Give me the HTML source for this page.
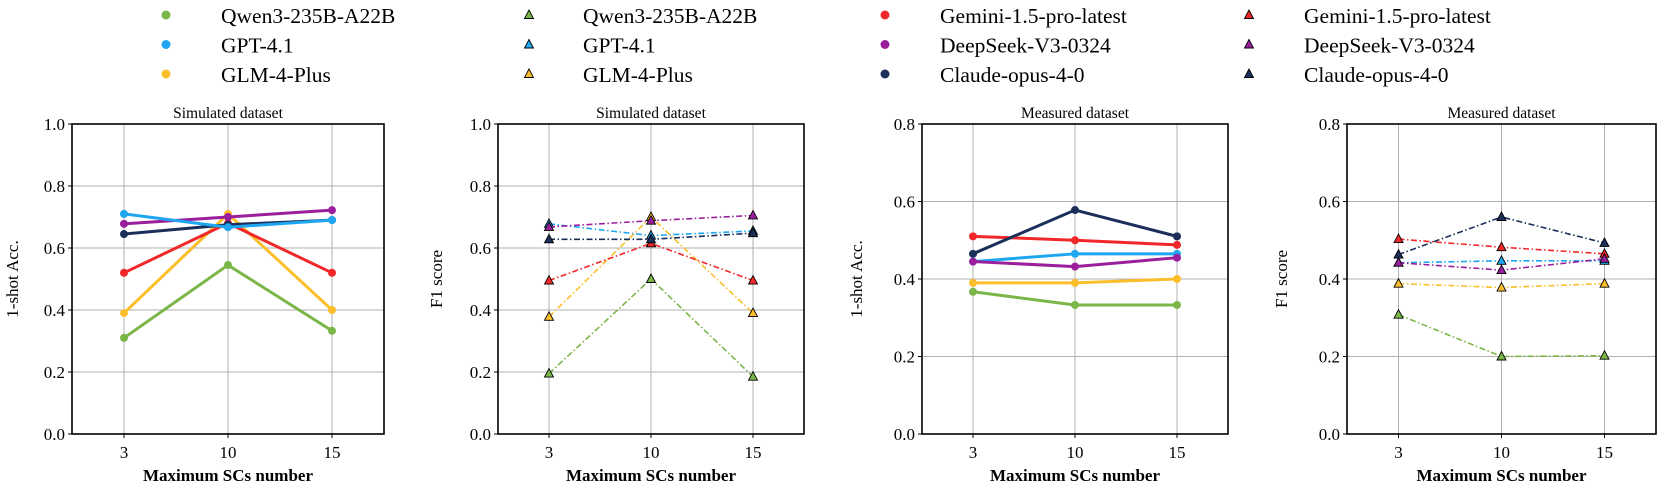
<!DOCTYPE html>
<html><head><meta charset="utf-8"><style>
body{margin:0;background:#fff;}
svg text{font-family:"Liberation Serif",serif;fill:#000;}
</style></head><body>
<svg id="s" width="1657" height="487" xmlns="http://www.w3.org/2000/svg"></svg>
<script>
const C={g:"#7ab648",b:"#1ea7f0",y:"#fbbf2c",r:"#f0282a",p:"#9b1f9d",n:"#1b2f5a"};
const panels=[
 {l:72,r:384,yx:13,max:1.0,title:"Simulated dataset",yl:"1-shot Acc.",tri:false,d:{g:[.31,.545,.333],b:[.71,.667,.69],y:[.39,.71,.40],r:[.52,.68,.52],p:[.678,.70,.722],n:[.645,.675,.69]},order:"gyrpnb"},
 {l:498,r:804,yx:437,max:1.0,title:"Simulated dataset",yl:"F1 score",tri:true,d:{g:[.195,.50,.185],b:[.678,.64,.655],y:[.378,.70,.39],r:[.495,.615,.495],p:[.668,.688,.705],n:[.628,.628,.648]},order:"gbyrpn"},
 {l:922,r:1228,yx:857,max:0.8,title:"Measured dataset",yl:"1-shot Acc.",tri:false,d:{g:[.367,.333,.333],b:[.445,.465,.465],y:[.39,.39,.40],r:[.51,.50,.488],p:[.445,.432,.455],n:[.465,.578,.51]},order:"gbyrpn"},
 {l:1347,r:1656,yx:1282,max:0.8,title:"Measured dataset",yl:"F1 score",tri:true,d:{g:[.308,.2,.202],b:[.442,.447,.447],y:[.388,.378,.388],r:[.503,.482,.465],p:[.442,.423,.452],n:[.463,.56,.493]},order:"gbyrpn"}
];
const T=124,B=434;
let h="";
function tri(x,y,c,s){s=s||1;return `<polygon points="${x},${y-5*s} ${x-4.5*s},${y+3.5*s} ${x+4.5*s},${y+3.5*s}" fill="${c}" stroke="#000" stroke-width="0.9"/>`;}
panels.forEach(P=>{
 const w=P.r-P.l, xs=[P.l+w/6,P.l+w/2,P.l+5*w/6];
 const Y=v=>B-(B-T)*v/P.max;
 for(let v=0;v<=P.max+1e-9;v+=0.2){const y=Y(v);
  h+=`<line x1="${P.l}" x2="${P.r}" y1="${y}" y2="${y}" stroke="#b0b0b0" stroke-width="1"/>`;
  h+=`<line x1="${P.l-4}" x2="${P.l}" y1="${y}" y2="${y}" stroke="#000"/>`;
  h+=`<text x="${P.l-7}" y="${y+6}" font-size="17" text-anchor="end">${v.toFixed(1)}</text>`;}
 ["3","10","15"].forEach((t,i)=>{
  h+=`<line x1="${xs[i]}" x2="${xs[i]}" y1="${T}" y2="${B}" stroke="#b0b0b0" stroke-width="1"/>`;
  h+=`<line x1="${xs[i]}" x2="${xs[i]}" y1="${B}" y2="${B+4}" stroke="#000"/>`;
  h+=`<text x="${xs[i]}" y="${B+24}" font-size="17" text-anchor="middle">${t}</text>`;});
 for(const k of P.order){const d=P.d[k];const pts=d.map((v,i)=>xs[i]+","+Y(v)).join(" ");
  if(P.tri){h+=`<polyline points="${pts}" fill="none" stroke="${C[k]}" stroke-width="1.6" stroke-dasharray="6,2.5,1.5,2.5"/>`;d.forEach((v,i)=>h+=tri(xs[i],Y(v),C[k]));}
  else{h+=`<polyline points="${pts}" fill="none" stroke="${C[k]}" stroke-width="3"/>`;d.forEach((v,i)=>h+=`<circle cx="${xs[i]}" cy="${Y(v)}" r="4" fill="${C[k]}"/>`);}
 }
 h+=`<rect x="${P.l}" y="${T}" width="${w}" height="${B-T}" fill="none" stroke="#000" stroke-width="1.6"/>`;
 h+=`<text x="${(P.l+P.r)/2}" y="${T-6}" font-size="15.5" text-anchor="middle">${P.title}</text>`;
 h+=`<text x="${(P.l+P.r)/2}" y="${B+47}" font-size="17" font-weight="bold" text-anchor="middle">Maximum SCs number</text>`;
 h+=`<text transform="translate(${P.yx+5},${(T+B)/2}) rotate(-90)" font-size="17" text-anchor="middle">${P.yl}</text>`;
});
const L=[[166,221,false,[["g","Qwen3-235B-A22B"],["b","GPT-4.1"],["y","GLM-4-Plus"]]],
 [529,583,true,[["g","Qwen3-235B-A22B"],["b","GPT-4.1"],["y","GLM-4-Plus"]]],
 [885,940,false,[["r","Gemini-1.5-pro-latest"],["p","DeepSeek-V3-0324"],["n","Claude-opus-4-0"]]],
 [1249,1304,true,[["r","Gemini-1.5-pro-latest"],["p","DeepSeek-V3-0324"],["n","Claude-opus-4-0"]]]];
L.forEach(([mx,tx,t,items])=>items.forEach(([k,s],i)=>{const y=15+i*29.5;
 h+=t?tri(mx,y,C[k]):`<circle cx="${mx}" cy="${y}" r="4.5" fill="${C[k]}"/>`;
 h+=`<text x="${tx}" y="${y+8}" font-size="21.5">${s}</text>`;}));
document.getElementById("s").innerHTML=h;
</script>
</body></html>
